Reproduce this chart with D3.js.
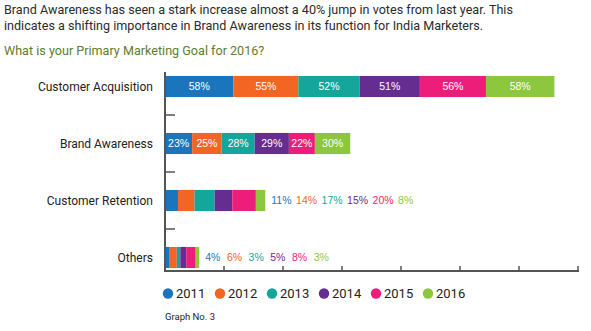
<!DOCTYPE html>
<html lang="en">
<head>
    <meta charset="UTF-8">
    <title>Primary Marketing Goal 2016</title>
    <style>
        body { margin: 0; background: #fff; }
        .head { font-family: 'Roboto', sans-serif; fill: #2b2b2b; }
        .question { font-family: 'Roboto', sans-serif; fill: #5f7d2c; }
        .cat-label { font-family: 'Roboto', sans-serif; font-size: 12px; fill: #222; text-anchor: end; }
        .in-label { font-family: 'Liberation Sans', Arial, sans-serif; font-size: 10.5px; fill: #fff; text-anchor: middle; }
        .out-label { font-family: 'Liberation Sans', Arial, sans-serif; font-size: 10.5px; }
        .legend-text { font-family: 'Roboto', sans-serif; font-size: 13px; fill: #222; }
        .foot { font-family: 'Roboto', sans-serif; font-size: 9.5px; fill: #222; }
    </style>
</head>
<body>
    <svg id="chart" width="591" height="331"></svg>

    <script src="https://d3js.org/d3.v7.min.js"></script>
    <script>
        // Survey data: share of votes per goal, one value per year
        const categories = ["Customer Acquisition", "Brand Awareness", "Customer Retention", "Others"];
        const years = ["2011", "2012", "2013", "2014", "2015", "2016"];
        const acquisition = [58, 55, 52, 51, 56, 58];
        const awareness = [23, 25, 28, 29, 22, 30];
        const retention = [11, 14, 17, 15, 20, 8];
        const others = [4, 6, 3, 5, 8, 3];
        const xTicks = [0, 50, 100, 150, 200, 250, 300, 350];

        const colors = ['#1b75bc', '#f26522', '#14a69a', '#662d91', '#ed1e79', '#8dc63f'];

        // rows whose labels don't fit inside the bar get them written after it
        const rows = [
            { name: categories[0], values: acquisition, inside: true },
            { name: categories[1], values: awareness, inside: true },
            { name: categories[2], values: retention, inside: false, gap: 4.5 },
            { name: categories[3], values: others, inside: false, gap: 6.5 }
        ];

        const svg = d3.select("#chart");

        // Heading text
        svg.append("text").attr("class", "head").attr("x", 4).attr("y", 14)
            .style("font-size", "12.6px")
            .text("Brand Awareness has seen a stark increase almost a 40% jump in votes from last year. This");
        svg.append("text").attr("class", "head").attr("x", 4).attr("y", 30)
            .style("font-size", "12.6px")
            .text("indicates a shifting importance in Brand Awareness in its function for India Marketers.");
        svg.append("text").attr("class", "question").attr("x", 4).attr("y", 55)
            .style("font-size", "12.6px")
            .text("What is your Primary Marketing Goal for 2016?");

        // Scales
        const x = d3.scaleLinear().domain([0, 350]).range([165, 578]);
        const y = d3.scaleBand().domain(categories).range([58, 286]).paddingInner(0.63).paddingOuter(0.315);
        const axisTop = 72, axisBottom = 271;

        // Stacked segments
        rows.forEach(row => {
            let acc = 0;
            const segs = row.values.map((v, i) => {
                const s = { v: v, x0: acc, x1: acc + v, i: i };
                acc += v;
                return s;
            });
            row.total = acc;

            const g = svg.append("g");
            g.selectAll("rect")
                .data(segs)
                .enter().append("rect")
                .attr("x", d => x(d.x0))
                .attr("width", d => x(d.x1) - x(d.x0))
                .attr("y", y(row.name))
                .attr("height", y.bandwidth())
                .attr("fill", d => colors[d.i]);

            const cy = y(row.name) + y.bandwidth() / 2;
            if (row.inside) {
                g.selectAll("text")
                    .data(segs)
                    .enter().append("text")
                    .attr("class", "in-label")
                    .attr("x", d => (x(d.x0) + x(d.x1)) / 2)
                    .attr("y", cy)
                    .attr("dy", "0.36em")
                    .text(d => d.v + "%");
            } else {
                let lx = x(row.total) + 6;
                segs.forEach(d => {
                    const t = g.append("text")
                        .attr("class", "out-label")
                        .attr("x", lx)
                        .attr("y", cy)
                        .attr("dy", "0.36em")
                        .attr("fill", colors[d.i])
                        .text(d.v + "%");
                    lx += t.node().getComputedTextLength() + row.gap;
                });
            }

            svg.append("text")
                .attr("class", "cat-label")
                .attr("x", 153)
                .attr("y", cy)
                .attr("dy", "0.35em")
                .text(row.name);
        });

        // Axes
        svg.append("line")
            .attr("x1", 165).attr("x2", 165)
            .attr("y1", axisTop).attr("y2", axisBottom + 1)
            .attr("stroke", "#555").attr("stroke-width", 2);
        svg.append("line")
            .attr("x1", 164).attr("x2", 579)
            .attr("y1", axisBottom).attr("y2", axisBottom)
            .attr("stroke", "#555").attr("stroke-width", 2);

        // category separators on the y axis
        svg.selectAll(".ytick")
            .data(categories.slice(1))
            .enter().append("line")
            .attr("x1", 165).attr("x2", 175)
            .attr("y1", d => y(d) - y.step() * y.paddingInner() / 2)
            .attr("y2", d => y(d) - y.step() * y.paddingInner() / 2)
            .attr("stroke", "#555").attr("stroke-width", 1.5);

        svg.selectAll(".xtick")
            .data(xTicks.slice(1))
            .enter().append("line")
            .attr("x1", d => x(d)).attr("x2", d => x(d))
            .attr("y1", axisBottom - 5).attr("y2", axisBottom)
            .attr("stroke", "#555").attr("stroke-width", 1.5);

        // Legend
        const legend = svg.append("g");
        years.forEach((yr, i) => {
            const lx = 168 + i * 52;
            legend.append("circle")
                .attr("cx", lx).attr("cy", 293.5).attr("r", 5.2)
                .attr("fill", colors[i]);
            legend.append("text")
                .attr("class", "legend-text")
                .attr("x", lx + 8).attr("y", 293.5)
                .attr("dy", "0.36em")
                .text(yr);
        });

        svg.append("text").attr("class", "foot")
            .attr("x", 165).attr("y", 320)
            .text("Graph No. 3");
    </script>
</body>
</html>
